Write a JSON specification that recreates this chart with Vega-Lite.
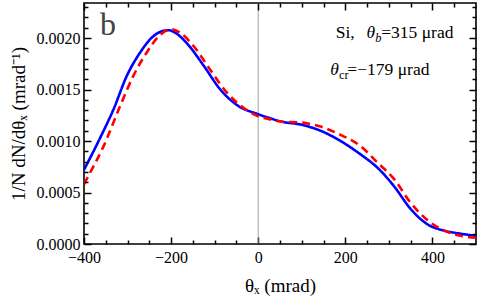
{
  "$schema": "https://vega.github.io/schema/vega-lite/v6.json",
  "width": 392,
  "height": 241,
  "autosize": {"type": "none"},
  "padding": {"left": 84, "top": 3, "right": 2, "bottom": 62},
  "background": "white",
  "config": {
    "view": {"stroke": "black", "strokeWidth": 1.6},
    "font": "Liberation Serif",
    "axis": {"labelFont": "Liberation Serif", "titleFont": "Liberation Serif", "labelFontSize": 16, "titleFontSize": 19, "labelColor": "black", "titleColor": "black", "titleFontWeight": "normal", "domainColor": "black", "tickColor": "black", "grid": false, "domainWidth": 1.6, "tickWidth": 1.5}
  },
  "datasets": {
    "one": [{}],
    "curves": [
      {"theta": -400, "value": 0.00072, "series": "sim"},
      {"theta": -363, "value": 0.00103, "series": "sim"},
      {"theta": -332, "value": 0.00131, "series": "sim"},
      {"theta": -302, "value": 0.00163, "series": "sim"},
      {"theta": -271, "value": 0.00186, "series": "sim"},
      {"theta": -240, "value": 0.00202, "series": "sim"},
      {"theta": -217, "value": 0.00207, "series": "sim"},
      {"theta": -205, "value": 0.002075, "series": "sim"},
      {"theta": -190, "value": 0.00205, "series": "sim"},
      {"theta": -164, "value": 0.00195, "series": "sim"},
      {"theta": -125, "value": 0.00173, "series": "sim"},
      {"theta": -87, "value": 0.0015, "series": "sim"},
      {"theta": -49, "value": 0.00135, "series": "sim"},
      {"theta": 0, "value": 0.00126, "series": "sim"},
      {"theta": 28, "value": 0.00122, "series": "sim"},
      {"theta": 51, "value": 0.00119, "series": "sim"},
      {"theta": 97, "value": 0.00116, "series": "sim"},
      {"theta": 143, "value": 0.0011, "series": "sim"},
      {"theta": 189, "value": 0.001, "series": "sim"},
      {"theta": 235, "value": 0.00087, "series": "sim"},
      {"theta": 274, "value": 0.00074, "series": "sim"},
      {"theta": 312, "value": 0.00056, "series": "sim"},
      {"theta": 350, "value": 0.00034, "series": "sim"},
      {"theta": 389, "value": 0.00019, "series": "sim"},
      {"theta": 427, "value": 0.00013, "series": "sim"},
      {"theta": 465, "value": 0.0001, "series": "sim"},
      {"theta": 500, "value": 0.00008, "series": "sim"},
      {"theta": -400, "value": 0.00058, "series": "fit"},
      {"theta": -390, "value": 0.00066, "series": "fit"},
      {"theta": -355, "value": 0.00095, "series": "fit"},
      {"theta": -317, "value": 0.00134, "series": "fit"},
      {"theta": -287, "value": 0.00163, "series": "fit"},
      {"theta": -256, "value": 0.00186, "series": "fit"},
      {"theta": -225, "value": 0.00203, "series": "fit"},
      {"theta": -200, "value": 0.002085, "series": "fit"},
      {"theta": -179, "value": 0.00205, "series": "fit"},
      {"theta": -148, "value": 0.00192, "series": "fit"},
      {"theta": -110, "value": 0.00169, "series": "fit"},
      {"theta": -72, "value": 0.00147, "series": "fit"},
      {"theta": -33, "value": 0.00132, "series": "fit"},
      {"theta": 0, "value": 0.00124, "series": "fit"},
      {"theta": 28, "value": 0.00121, "series": "fit"},
      {"theta": 51, "value": 0.00119, "series": "fit"},
      {"theta": 97, "value": 0.00118, "series": "fit"},
      {"theta": 143, "value": 0.00114, "series": "fit"},
      {"theta": 189, "value": 0.00106, "series": "fit"},
      {"theta": 235, "value": 0.00095, "series": "fit"},
      {"theta": 274, "value": 0.00079, "series": "fit"},
      {"theta": 312, "value": 0.00063, "series": "fit"},
      {"theta": 350, "value": 0.0004, "series": "fit"},
      {"theta": 389, "value": 0.00023, "series": "fit"},
      {"theta": 427, "value": 0.00013, "series": "fit"},
      {"theta": 465, "value": 0.00008, "series": "fit"},
      {"theta": 500, "value": 0.00006, "series": "fit"}
    ]
  },
  "layer": [
    {
      "data": {"name": "one"},
      "mark": {"type": "rule", "color": "#888888", "strokeWidth": 0.8},
      "encoding": {
        "x": {"datum": 0, "type": "quantitative", "scale": {"domain": [-400, 500], "nice": false, "zero": false}, "axis": null}
      }
    },
    {
      "data": {"name": "curves"},
      "mark": {"type": "line", "interpolate": "monotone", "strokeWidth": 2.6, "clip": true},
      "encoding": {
        "x": {"field": "theta", "type": "quantitative", "scale": {"domain": [-400, 500], "nice": false, "zero": false},
          "axis": {"orient": "bottom", "values": [-400, -200, 0, 200, 400], "offset": -7, "tickSize": 7, "domain": false, "labelPadding": 5, "title": "θₓ (mrad)", "titlePadding": 11, "labelFlush": false}},
        "y": {"field": "value", "type": "quantitative", "scale": {"domain": [0, 0.00234], "nice": false},
          "axis": {"orient": "left", "values": [0, 0.0005, 0.001, 0.0015, 0.002], "format": ".4f", "offset": -7, "tickSize": 7, "domain": false, "labelPadding": 4, "title": "1/N dN/dθₓ (mrad⁻¹)", "titlePadding": 8, "labelFlush": false}},
        "color": {"field": "series", "type": "nominal", "scale": {"domain": ["sim", "fit"], "range": ["#0000ff", "#ff0000"]}, "legend": null},
        "strokeDash": {"field": "series", "type": "nominal", "scale": {"domain": ["sim", "fit"], "range": [[1, 0], [8, 5]]}, "legend": null}
      }
    },
    {
      "data": {"name": "curves"},
      "mark": {"type": "point", "opacity": 0},
      "encoding": {
        "x": {"field": "theta", "type": "quantitative", "axis": {"orient": "bottom", "values": [-350, -300, -250, -150, -100, -50, 50, 100, 150, 250, 300, 350, 450], "offset": -4, "tickSize": 4, "tickColor": "black", "tickOpacity": 1, "labelOpacity": 0, "domain": false, "title": "x", "titleOpacity": 0, "zindex": 2}},
        "y": {"field": "value", "type": "quantitative", "axis": {"orient": "left", "values": [0.0001, 0.0002, 0.0003, 0.0004, 0.0006, 0.0007, 0.0008, 0.0009, 0.0011, 0.0012, 0.0013, 0.0014, 0.0016, 0.0017, 0.0018, 0.0019, 0.0021, 0.0022, 0.0023], "offset": -4, "tickSize": 4, "tickColor": "black", "tickOpacity": 1, "labelOpacity": 0, "domain": false, "title": "y", "titleOpacity": 0, "zindex": 2}}
      }
    },
    {
      "data": {"name": "curves"},
      "mark": {"type": "point", "opacity": 0},
      "encoding": {
        "x": {"field": "theta", "type": "quantitative", "axis": {"orient": "top", "values": [-400, -200, 0, 200, 400], "offset": -7, "tickSize": 7, "tickColor": "black", "tickOpacity": 1, "domain": false, "labelOpacity": 0, "title": "x", "titleOpacity": 0, "zindex": 2}},
        "y": {"field": "value", "type": "quantitative", "axis": {"orient": "right", "values": [0, 0.0005, 0.001, 0.0015, 0.002], "offset": -7, "tickSize": 7, "tickColor": "black", "tickOpacity": 1, "domain": false, "labelOpacity": 0, "title": "y", "titleOpacity": 0, "zindex": 2}}
      }
    },
    {
      "data": {"name": "curves"},
      "mark": {"type": "point", "opacity": 0},
      "encoding": {
        "x": {"field": "theta", "type": "quantitative", "axis": {"orient": "top", "values": [-350, -300, -250, -150, -100, -50, 50, 100, 150, 250, 300, 350, 450], "offset": -4, "tickSize": 4, "tickColor": "black", "tickOpacity": 1, "labelOpacity": 0, "domain": false, "title": "x", "titleOpacity": 0, "zindex": 2}},
        "y": {"field": "value", "type": "quantitative", "axis": {"orient": "right", "values": [0.0001, 0.0002, 0.0003, 0.0004, 0.0006, 0.0007, 0.0008, 0.0009, 0.0011, 0.0012, 0.0013, 0.0014, 0.0016, 0.0017, 0.0018, 0.0019, 0.0021, 0.0022, 0.0023], "offset": -4, "tickSize": 4, "tickColor": "black", "tickOpacity": 1, "labelOpacity": 0, "domain": false, "title": "y", "titleOpacity": 0, "zindex": 2}}
      }
    },
    {
      "data": {"name": "one"},
      "mark": {"type": "text", "text": "b", "font": "Liberation Serif", "fontSize": 32, "align": "left", "baseline": "alphabetic", "color": "#444444"},
      "encoding": {"x": {"datum": -363, "type": "quantitative", "axis": null}, "y": {"datum": 0.00203, "type": "quantitative", "axis": null}}
    },
    {
      "data": {"name": "one"},
      "mark": {"type": "text", "text": "Si,", "font": "Liberation Serif", "fontSize": 17.5, "align": "right", "baseline": "alphabetic", "color": "black"},
      "encoding": {"x": {"datum": 221.4, "type": "quantitative", "axis": null}, "y": {"datum": 0.002003, "type": "quantitative", "axis": null}}
    },
    {
      "data": {"name": "one"},
      "mark": {"type": "text", "text": "θ", "font": "Liberation Serif", "fontSize": 17.5, "fontStyle": "italic", "align": "right", "baseline": "alphabetic", "color": "black"},
      "encoding": {"x": {"datum": 268.5, "type": "quantitative", "axis": null}, "y": {"datum": 0.002003, "type": "quantitative", "axis": null}}
    },
    {
      "data": {"name": "one"},
      "mark": {"type": "text", "text": "b", "font": "Liberation Serif", "fontSize": 12.5, "fontStyle": "italic", "align": "left", "baseline": "alphabetic", "dy": 4, "color": "black"},
      "encoding": {"x": {"datum": 268.5, "type": "quantitative", "axis": null}, "y": {"datum": 0.002003, "type": "quantitative", "axis": null}}
    },
    {
      "data": {"name": "one"},
      "mark": {"type": "text", "text": "=315 μrad", "font": "Liberation Serif", "fontSize": 17.5, "align": "left", "baseline": "alphabetic", "color": "black"},
      "encoding": {"x": {"datum": 282.3, "type": "quantitative", "axis": null}, "y": {"datum": 0.002003, "type": "quantitative", "axis": null}}
    },
    {
      "data": {"name": "one"},
      "mark": {"type": "text", "text": "θ", "font": "Liberation Serif", "fontSize": 17.5, "fontStyle": "italic", "align": "right", "baseline": "alphabetic", "color": "black"},
      "encoding": {"x": {"datum": 185.2, "type": "quantitative", "axis": null}, "y": {"datum": 0.001645, "type": "quantitative", "axis": null}}
    },
    {
      "data": {"name": "one"},
      "mark": {"type": "text", "text": "cr", "font": "Liberation Serif", "fontSize": 12.5, "align": "left", "baseline": "alphabetic", "dy": 4, "color": "black"},
      "encoding": {"x": {"datum": 185.2, "type": "quantitative", "axis": null}, "y": {"datum": 0.001645, "type": "quantitative", "axis": null}}
    },
    {
      "data": {"name": "one"},
      "mark": {"type": "text", "text": "=−179 μrad", "font": "Liberation Serif", "fontSize": 17.5, "align": "left", "baseline": "alphabetic", "color": "black"},
      "encoding": {"x": {"datum": 204.6, "type": "quantitative", "axis": null}, "y": {"datum": 0.001645, "type": "quantitative", "axis": null}}
    }
  ],
  "resolve": {"axis": {"x": "independent", "y": "independent"}}
}
